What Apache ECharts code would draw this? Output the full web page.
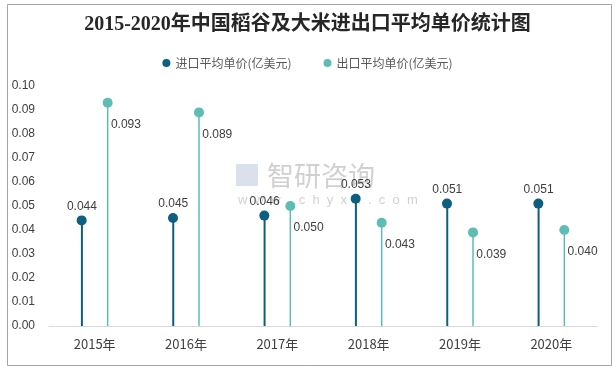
<!DOCTYPE html>
<html><head><meta charset="utf-8">
<script src="https://cdn.jsdelivr.net/npm/echarts@6/dist/echarts.min.js"></script>
<style>html,body{margin:0;padding:0;background:#fff}#c{width:615px;height:367px}</style>
</head><body><div id="c"></div>
<script>
const categories = ['2015年','2016年','2017年','2018年','2019年','2020年'];
const importPrice = [0.044,0.045,0.046,0.053,0.051,0.051];
const exportPrice = [0.093,0.089,0.050,0.043,0.039,0.040];
const yTicks = {min:0, max:0.10, interval:0.01};
const importName = '进口平均单价(亿美元)';
const exportName = '出口平均单价(亿美元)';
const titleText = '2015-2020年中国稻谷及大米进出口平均单价统计图';

const C_IMP = '#0d5e80';
const C_EXP = '#5dbdb5';
const txt = '#404040';
const chart = echarts.init(document.getElementById('c'));
chart.setOption({
  animation:false,
  title:{text:titleText,left:'center',top:10,textStyle:{fontFamily:'Liberation Serif, "Noto Sans CJK SC"',fontSize:20,fontWeight:'bold',color:'#262626'}},
  legend:{top:52,left:'center',itemWidth:8,itemHeight:8,itemGap:32,icon:'circle',
    textStyle:{fontSize:12,color:'#595959',fontFamily:'"Noto Sans CJK SC", sans-serif'},
    data:[{name:importName,itemStyle:{color:C_IMP}},{name:exportName,itemStyle:{color:C_EXP}}]},
  grid:{left:49,right:18,top:86,bottom:41,containLabel:false},
  xAxis:{type:'category',data:categories,
    axisLine:{lineStyle:{color:'#d9d9d9'}},axisTick:{show:false},
    axisLabel:{color:txt,fontSize:13,margin:12,fontFamily:'"Noto Sans CJK SC", sans-serif'}},
  yAxis:{type:'value',min:yTicks.min,max:yTicks.max,interval:yTicks.interval,
    splitLine:{show:false},axisLine:{show:false},axisTick:{show:false},
    axisLabel:{color:txt,fontSize:12,margin:14,formatter:v=>v.toFixed(2)}},
  graphic:[
    {type:'rect',left:5,top:2,shape:{width:604,height:361},style:{fill:'none',stroke:'#a6a6a6',lineWidth:1},silent:true,z:-10},
    {type:'group',left:236,top:162,silent:true,z:-5,children:[
      {type:'rect',shape:{x:0,y:2,width:22,height:22},style:{fill:'rgba(150,170,200,0.35)'}},
      {type:'text',x:31,y:0,style:{text:'智研咨询',fontSize:27,fill:'rgba(150,150,150,0.45)',fontFamily:'"Noto Sans CJK SC"'}},
      {type:'text',x:2,y:32,style:{text:'w  w  w  .  c  h  y  x  x  .  c  o  m',fontSize:13,fill:'rgba(150,150,150,0.45)'}}
    ]}
  ],
  series:[
    {name:importName,type:'bar',data:importPrice,barWidth:2,barGap:'1200%',itemStyle:{color:C_IMP},
      label:{show:true,position:'top',distance:8,color:txt,fontSize:12,formatter:p=>p.value.toFixed(3)}},
    {name:exportName,type:'bar',data:exportPrice,barWidth:1.5,barGap:'1200%',itemStyle:{color:C_EXP},
      label:{show:true,position:[4,16],color:txt,fontSize:12,formatter:p=>p.value.toFixed(3)}},
    {name:importName,type:'pictorialBar',data:importPrice,symbol:'circle',symbolSize:10,barWidth:10,barGap:'160%',
      symbolPosition:'end',symbolOffset:[0,'-50%'],itemStyle:{color:C_IMP},z:5},
    {name:exportName,type:'pictorialBar',data:exportPrice,symbol:'circle',symbolSize:10,barWidth:10,barGap:'160%',
      symbolPosition:'end',symbolOffset:[0,'-50%'],itemStyle:{color:C_EXP},z:5}
  ]
});
</script></body></html>
